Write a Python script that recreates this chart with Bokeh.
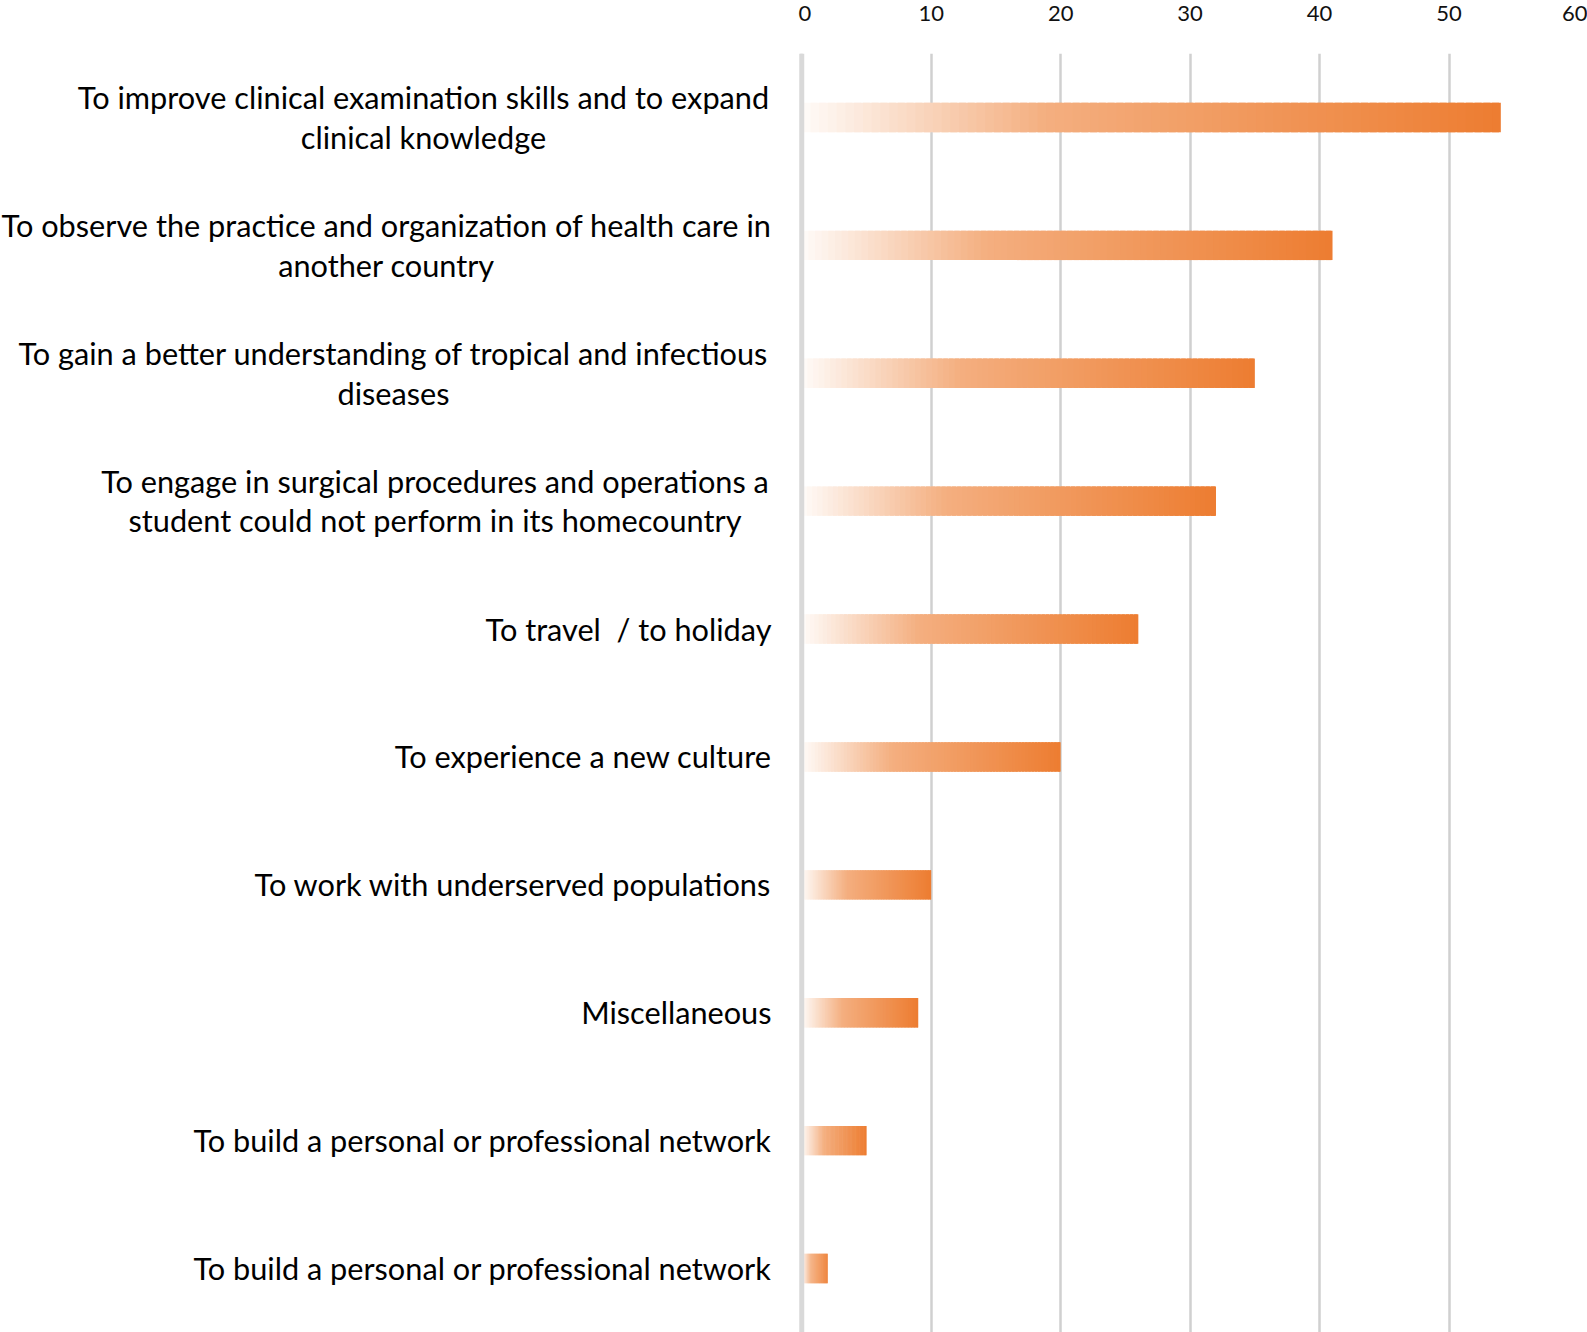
from bokeh.plotting import figure
from bokeh.models import Range1d, Span, FixedTicker
from bokeh.layouts import row
from bokeh.core.properties import value
from bokeh.embed import file_html
from bokeh.resources import INLINE

# ---- data (top to bottom) ----
labels = [
    "To improve clinical examination skills and to expand\nclinical knowledge",
    "To observe the practice and organization of health care in\nanother country",
    "To gain a better understanding of tropical and infectious\ndiseases",
    "To engage in surgical procedures and operations a\nstudent could not perform in its homecountry",
    "To travel  / to holiday",
    "To experience a new culture",
    "To work with underserved populations",
    "Miscellaneous",
    "To build a personal or professional network",
    "To build a personal or professional network",
]
values = [54, 41, 35, 32, 26, 20, 10, 9, 5, 2]
x_ticks = [0, 10, 20, 30, 40, 50, 60]

FONT = "Lato"
LABEL_SIZE = "30.7px"
BASE = (0xED, 0x7D, 0x31)

def blend(a):
    r = [round(255 + (c - 255) * a) for c in BASE]
    return "#%02x%02x%02x" % tuple(r)

def alpha_at(t):
    if t < 0.35:
        return 0.03 + (0.62 - 0.03) * t / 0.35
    return 0.62 + (1.0 - 0.62) * (t - 0.35) / 0.65

W_LEFT = 798
H = 1332
TOP = 53

yr = Range1d(len(values), 0)

# ---- main chart ----
p = figure(width=1587 - W_LEFT, height=H,
           x_range=Range1d(-0.25, 60), y_range=yr,
           x_axis_location="above",
           output_backend="svg", toolbar_location=None,
           min_border_left=0, min_border_right=9,
           min_border_top=TOP, min_border_bottom=0)
p.outline_line_color = None
p.yaxis.visible = False

N = 80
ys, lefts, rights, cols = [], [], [], []
for i, v in enumerate(values):
    for j in range(N):
        ys.append(i + 0.5)
        lefts.append(v * j / N)
        rights.append(min(v, v * (j + 1.8) / N))
        cols.append(blend(alpha_at((j + 0.5) / N)))
p.hbar(y=ys, left=lefts, right=rights, height=0.23,
       fill_color=cols, line_color=None)

p.xgrid.ticker = FixedTicker(ticks=x_ticks)
p.xgrid.grid_line_color = "#d0d0d0"
p.xgrid.grid_line_width = 2.5
p.ygrid.grid_line_color = None
p.add_layout(Span(location=0, dimension="height",
                  line_color="#d9d9d9", line_width=5))

p.xaxis.ticker = FixedTicker(ticks=x_ticks)
p.xaxis.axis_line_color = None
p.xaxis.major_tick_line_color = None
p.xaxis.minor_tick_line_color = None
p.xaxis.major_label_text_font = FONT
p.xaxis.major_label_text_font_size = "22px"
p.xaxis.major_label_text_color = "#111111"
p.xaxis.major_label_standoff = 27

# ---- label panel ----
q = figure(width=W_LEFT, height=H,
           x_range=Range1d(0, W_LEFT), y_range=yr,
           output_backend="svg", toolbar_location=None,
           min_border_left=0, min_border_right=0,
           min_border_top=TOP, min_border_bottom=0)
q.axis.visible = False
q.grid.visible = False
q.outline_line_color = None

RIGHT_EDGE = 771
# widths of the first line of each wrapped label (px), used to centre the block
first_line_w = {0: 692, 1: 766, 2: 752, 3: 669}
WRAP_EDGE = 769

sx, sy, st = [], [], []
cx, cy, ct = [], [], []
for i, lab in enumerate(labels):
    shown = lab.replace("  ", " \u00a0")
    if "\n" in lab:
        cx.append(WRAP_EDGE - first_line_w[i] / 2)
        cy.append(i + 0.5)
        ct.append(shown)
    else:
        sx.append(RIGHT_EDGE)
        sy.append(i + 0.5)
        st.append(shown)

q.text(x=sx, y=sy, text=st, text_align="right", text_baseline="middle",
       text_font=value(FONT), text_font_size=LABEL_SIZE, text_color="#000000")
q.text(x=cx, y=cy, text=ct, text_align="center", text_baseline="middle",
       text_font=value(FONT), text_font_size=LABEL_SIZE, text_color="#000000",
       text_line_height=1.07)

layout = row(q, p, spacing=0)
open("out.html", "w").write(file_html(layout, INLINE))
